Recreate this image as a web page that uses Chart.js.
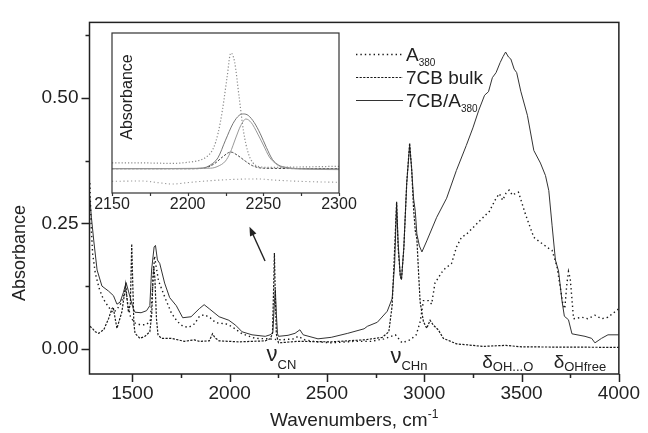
<!DOCTYPE html>
<html>
<head>
<meta charset="utf-8">
<script src="https://cdn.jsdelivr.net/npm/chart.js@4.4.1/dist/chart.umd.min.js"></script>
<style>
  html, body { margin: 0; padding: 0; background: #fff; }
  #wrap { position: relative; width: 648px; height: 433px; }
  #wrap canvas { position: absolute; left: 0; top: 0; }
</style>
</head>
<body>
<div id="wrap">
  <canvas id="main" width="648" height="433"></canvas>
  <canvas id="inset" width="648" height="433"></canvas>
</div>
<script>
// spectra: wavenumber (cm-1) / absorbance
var a380Wn = [1282,1288,1296,1310,1330,1350,1375,1400,1420,1440,1455,1466,1476,1490,1510,1540,1570,1592,1604,1614,1622,1635,1650,1670,1700,1730,1760,1790,1820,1845,1870,1900,1929,1980,2013,2064,2132,2200,2267,2330,2352,2386,2450,2522,2640,2725,2793,2852,2886,2928,2959,2979,2996,3022,3038,3055,3098,3140,3166,3191,3216,3267,3301,3335,3369,3386,3403,3420,3436,3453,3470,3484,3521,3563,3597,3640,3657,3682,3700,3712,3722,3733,3741,3750,3759,3767,3810,3840,3877,3911,3944,3987,4000];
var a380Abs = [0.33,0.25,0.19,0.15,0.12,0.10,0.085,0.072,0.078,0.09,0.105,0.12,0.09,0.065,0.052,0.048,0.048,0.055,0.12,0.185,0.165,0.135,0.12,0.10,0.072,0.055,0.045,0.043,0.05,0.065,0.068,0.062,0.052,0.050,0.044,0.030,0.021,0.020,0.018,0.02,0.025,0.018,0.014,0.012,0.015,0.015,0.020,0.028,0.012,0.018,0.028,0.054,0.096,0.096,0.089,0.131,0.157,0.170,0.203,0.222,0.228,0.248,0.261,0.274,0.300,0.309,0.296,0.31,0.316,0.306,0.31,0.312,0.267,0.222,0.212,0.20,0.196,0.164,0.12,0.09,0.08,0.13,0.154,0.14,0.099,0.060,0.063,0.06,0.067,0.060,0.063,0.076,0.08];

var bulkWn = [1282,1294,1310,1327,1353,1378,1395,1402,1412,1421,1446,1460,1466,1473,1480,1490,1497,1503,1508,1514,1539,1565,1590,1600,1606,1610,1616,1624,1632,1649,1700,1768,1819,1845,1895,1912,1925,1946,2047,2183,2208,2220,2226,2230,2234,2240,2251,2352,2522,2691,2784,2818,2835,2848,2858,2866,2877,2883,2895,2910,2925,2935,2945,2954,2962,2971,2979,2996,3013,3030,3047,3072,3098,3166,3301,3420,3500,4000];
var bulkAbs = [0.045,0.041,0.034,0.031,0.038,0.060,0.080,0.083,0.06,0.041,0.073,0.11,0.128,0.10,0.073,0.09,0.209,0.12,0.05,0.031,0.021,0.025,0.034,0.07,0.14,0.165,0.14,0.06,0.028,0.021,0.021,0.015,0.018,0.015,0.016,0.030,0.022,0.016,0.014,0.016,0.020,0.03,0.12,0.191,0.12,0.03,0.012,0.015,0.014,0.018,0.023,0.034,0.086,0.20,0.293,0.2,0.145,0.138,0.2,0.33,0.41,0.36,0.28,0.235,0.22,0.15,0.093,0.054,0.041,0.057,0.047,0.038,0.021,0.010,0.005,0.007,0.004,0.003];

var compWn = [1282,1290,1302,1319,1344,1378,1403,1421,1437,1454,1468,1480,1492,1505,1514,1545,1573,1590,1599,1612,1619,1629,1641,1666,1692,1726,1759,1802,1844,1869,1895,1946,1996,2031,2064,2115,2183,2208,2222,2230,2235,2240,2246,2251,2300,2336,2361,2378,2454,2522,2607,2691,2708,2759,2810,2835,2848,2858,2866,2877,2883,2895,2910,2925,2935,2945,2954,2962,2975,2988,3013,3064,3115,3165,3216,3250,3280,3310,3330,3350,3369,3390,3405,3418,3433,3445,3462,3475,3496,3530,3563,3597,3623,3640,3657,3674,3690,3708,3720,3741,3759,3826,3860,3877,3911,3944,4000];
var compAbs = [0.30,0.261,0.215,0.157,0.125,0.115,0.106,0.089,0.093,0.112,0.132,0.115,0.098,0.080,0.073,0.072,0.076,0.086,0.157,0.203,0.206,0.177,0.170,0.131,0.102,0.086,0.062,0.064,0.080,0.088,0.080,0.064,0.057,0.047,0.034,0.028,0.025,0.028,0.032,0.09,0.118,0.07,0.03,0.025,0.027,0.031,0.038,0.028,0.020,0.023,0.031,0.040,0.045,0.053,0.075,0.10,0.17,0.29,0.21,0.145,0.138,0.2,0.33,0.405,0.36,0.30,0.274,0.229,0.205,0.193,0.215,0.262,0.30,0.355,0.405,0.44,0.475,0.505,0.512,0.54,0.55,0.57,0.582,0.591,0.581,0.577,0.557,0.55,0.513,0.465,0.395,0.37,0.345,0.315,0.245,0.177,0.155,0.095,0.065,0.058,0.03,0.025,0.021,0.012,0.021,0.028,0.028];

// inset (nu CN region), relative absorbance 0..100
var insetAWn = [2150,2170,2190,2200,2208,2213,2217,2220,2223,2226,2228.5,2231,2234,2237,2240,2243,2247,2255,2270,2300];
var insetAVal = [18.8,18.8,18.5,19.2,20.5,23,28,37,52,72,87.5,82,60,38,25,19,16.5,16,16.2,16.7];
var insetBWn = [2150,2200,2210,2215,2220,2225,2230,2234,2237,2240,2244,2248,2252,2256,2260,2265,2275,2300];
var insetBVal = [15.2,15.2,15.6,17.5,22,33,43.5,48.5,49.4,48.5,44,37,28.5,21,17.5,16,15.2,15];
var insetCWn = [2150,2215,2220,2225,2228,2232,2235,2238.5,2242,2246,2250,2254,2258,2262,2275,2300];
var insetCVal = [15.2,15.5,16.7,20,25,35,42,46.25,44,37.5,30,22.5,18.5,16.3,15,14.6];
var insetDWn = [2150,2205,2212,2218,2223,2228.5,2233,2238,2243,2250,2300];
var insetDVal = [15.2,15.2,15.8,18.5,22.5,25.6,23.5,20,17,15.5,15.2];
var insetEWn = [2150,2170,2180,2190,2200,2215,2230,2245,2260,2280,2300];
var insetEVal = [7.3,7.5,6.5,5.6,6.5,7.7,8.5,8.8,7.9,7.1,6.7];

var xTicks = [1500, 2000, 2500, 3000, 3500, 4000];
var xMinor = [1750, 2250, 2750, 3250, 3750];
var yTicks = [0, 0.25, 0.5];
var yMinor = [0.125, 0.375, 0.625];
var insetTicks = [2150, 2200, 2250, 2300];
var insetMinor = [2175, 2225, 2275];

var notes = [
  {x: 2190, y: -0.025, main: '\u03bd', sub: 'CN', size: 22, drop: 8},
  {x: 2826, y: -0.028, main: '\u03bd', sub: 'CHn', size: 22, drop: 7.5},
  {x: 3298, y: -0.039, main: '\u03b4', sub: 'OH...O', size: 19, drop: 2.5},
  {x: 3665, y: -0.039, main: '\u03b4', sub: 'OHfree', size: 19, drop: 2.5}
];
var arrowFrom = {x: 2182, y: 0.175};
var arrowTo = {x: 2102, y: 0.243};

var FONT = '"Liberation Sans", Arial, Helvetica, sans-serif';
var INK = '#222';

function pts(xs, ys) {
  return xs.map(function (x, i) { return {x: x, y: ys[i]}; });
}

function textSub(ctx, x, y, main, sub, size, subSize, drop) {
  ctx.font = size + 'px ' + FONT;
  ctx.textAlign = 'left';
  ctx.textBaseline = 'alphabetic';
  ctx.fillText(main, x, y);
  var w = ctx.measureText(main).width;
  ctx.font = subSize + 'px ' + FONT;
  ctx.fillText(sub, x + w, y + drop);
}

var mainDeco = {
  id: 'mainDeco',
  afterDraw: function (chart) {
    var ctx = chart.ctx, a = chart.chartArea;
    var sx = chart.scales.x, sy = chart.scales.y;
    ctx.save();
    ctx.strokeStyle = INK;
    ctx.fillStyle = INK;
    ctx.lineWidth = 1.5;
    ctx.setLineDash([]);
    ctx.strokeRect(a.left, a.top, a.right - a.left, a.bottom - a.top);

    // tick marks, outward
    ctx.beginPath();
    xTicks.forEach(function (v) { var p = Math.round(sx.getPixelForValue(v)) + 0.5; ctx.moveTo(p, a.bottom); ctx.lineTo(p, a.bottom + 8); });
    xMinor.forEach(function (v) { var p = Math.round(sx.getPixelForValue(v)) + 0.5; ctx.moveTo(p, a.bottom); ctx.lineTo(p, a.bottom + 4); });
    yTicks.forEach(function (v) { var p = Math.round(sy.getPixelForValue(v)) + 0.5; ctx.moveTo(a.left, p); ctx.lineTo(a.left - 8, p); });
    yMinor.forEach(function (v) { var p = Math.round(sy.getPixelForValue(v)) + 0.5; ctx.moveTo(a.left, p); ctx.lineTo(a.left - 4, p); });
    ctx.stroke();

    // band labels
    notes.forEach(function (n) {
      textSub(ctx, sx.getPixelForValue(n.x), sy.getPixelForValue(n.y), n.main, n.sub, n.size, 13, n.drop);
    });

    // arrow to inset
    var x0 = sx.getPixelForValue(arrowFrom.x), y0 = sy.getPixelForValue(arrowFrom.y);
    var x1 = sx.getPixelForValue(arrowTo.x), y1 = sy.getPixelForValue(arrowTo.y);
    var ang = Math.atan2(y1 - y0, x1 - x0);
    ctx.lineWidth = 1.4;
    ctx.beginPath();
    ctx.moveTo(x0, y0);
    ctx.lineTo(x1 - 6 * Math.cos(ang), y1 - 6 * Math.sin(ang));
    ctx.stroke();
    ctx.beginPath();
    ctx.moveTo(x1, y1);
    ctx.lineTo(x1 - 9 * Math.cos(ang) + 3.5 * Math.sin(ang), y1 - 9 * Math.sin(ang) - 3.5 * Math.cos(ang));
    ctx.lineTo(x1 - 9 * Math.cos(ang) - 3.5 * Math.sin(ang), y1 - 9 * Math.sin(ang) + 3.5 * Math.cos(ang));
    ctx.closePath();
    ctx.fill();

    // legend
    var rows = [54, 77, 100];
    var names = [['A', '380'], ['7CB bulk', ''], ['7CB/A', '380']];
    chart.data.datasets.forEach(function (ds, i) {
      var y = rows[i] + 0.5;
      ctx.strokeStyle = ds.borderColor;
      ctx.lineWidth = ds.borderWidth;
      ctx.setLineDash(ds.borderDash || []);
      ctx.beginPath();
      ctx.moveTo(356, y);
      ctx.lineTo(403, y);
      ctx.stroke();
      ctx.setLineDash([]);
      textSub(ctx, 406, rows[i] + 7, names[i][0], names[i][1], 19, 10, 5);
    });

    // axis titles
    ctx.font = '19px ' + FONT;
    var t = 'Wavenumbers, cm';
    var w1 = ctx.measureText(t).width;
    ctx.font = '12px ' + FONT;
    var w2 = ctx.measureText('-1').width;
    var cx = (a.left + a.right) / 2 - (w1 + w2) / 2;
    ctx.font = '19px ' + FONT;
    ctx.textAlign = 'left';
    ctx.textBaseline = 'alphabetic';
    ctx.fillText(t, cx, 426);
    ctx.font = '12px ' + FONT;
    ctx.fillText('-1', cx + w1, 418);

    ctx.translate(25, 253);
    ctx.rotate(-Math.PI / 2);
    ctx.font = '18px ' + FONT;
    ctx.textAlign = 'center';
    ctx.textBaseline = 'alphabetic';
    ctx.fillText('Absorbance', 0, 0);
    ctx.restore();
  }
};

new Chart(document.getElementById('main'), {
  type: 'line',
  data: {
    datasets: [
      {label: 'A380', data: pts(a380Wn, a380Abs), borderColor: '#1a1a1a', borderWidth: 1.4, borderDash: [1.4, 3]},
      {label: '7CB bulk', data: pts(bulkWn, bulkAbs), borderColor: '#1a1a1a', borderWidth: 1.2, borderDash: [2.2, 1.4]},
      {label: '7CB/A380', data: pts(compWn, compAbs), borderColor: '#333', borderWidth: 1}
    ]
  },
  options: {
    responsive: false,
    animation: false,
    devicePixelRatio: 1,
    layout: {padding: {top: 13, right: 24, left: 0, bottom: 0}},
    elements: {point: {radius: 0}, line: {tension: 0, fill: false}},
    plugins: {legend: {display: false}, tooltip: {enabled: false}},
    scales: {
      x: {
        type: 'linear', min: 1280, max: 4000,
        grid: {display: false, drawTicks: false},
        border: {display: false},
        afterBuildTicks: function (s) { s.ticks = xTicks.map(function (v) { return {value: v}; }); },
        afterFit: function (s) { s.height = 59; },
        ticks: {padding: 8, color: INK, maxRotation: 0, autoSkip: false, font: {family: FONT, size: 19},
          callback: function (v) { return String(v); }}
      },
      y: {
        type: 'linear', min: -0.05, max: 0.65,
        grid: {display: false, drawTicks: false},
        border: {display: false},
        afterBuildTicks: function (s) { s.ticks = yTicks.map(function (v) { return {value: v}; }); },
        afterFit: function (s) { s.width = 89.5; },
        ticks: {padding: 11, color: INK, font: {family: FONT, size: 19},
          callback: function (v) { return v.toFixed(2); }}
      }
    }
  },
  plugins: [mainDeco]
});

var insetDeco = {
  id: 'insetDeco',
  beforeDraw: function (chart) {
    var ctx = chart.ctx, a = chart.chartArea;
    ctx.save();
    ctx.fillStyle = '#fff';
    ctx.fillRect(a.left, a.top, a.right - a.left, a.bottom - a.top);
    ctx.restore();
  },
  afterDraw: function (chart) {
    var ctx = chart.ctx, a = chart.chartArea, sx = chart.scales.x;
    ctx.save();
    ctx.strokeStyle = '#333';
    ctx.lineWidth = 1.2;
    ctx.strokeRect(a.left, a.top, a.right - a.left, a.bottom - a.top);
    ctx.beginPath();
    insetTicks.concat(insetMinor).forEach(function (v) {
      var p = Math.round(sx.getPixelForValue(v)) + 0.5;
      ctx.moveTo(p, a.bottom);
      ctx.lineTo(p, a.bottom + 3);
    });
    ctx.stroke();
    ctx.fillStyle = INK;
    ctx.translate(132, (a.top + a.bottom) / 2 - 16);
    ctx.rotate(-Math.PI / 2);
    ctx.font = '16px ' + FONT;
    ctx.textAlign = 'center';
    ctx.textBaseline = 'alphabetic';
    ctx.fillText('Absorbance', 0, 0);
    ctx.restore();
  }
};

new Chart(document.getElementById('inset'), {
  type: 'line',
  data: {
    datasets: [
      {data: pts(insetEWn, insetEVal), borderColor: '#999', borderWidth: 1.1, borderDash: [1.2, 2.6]},
      {data: pts(insetAWn, insetAVal), borderColor: '#8a8a8a', borderWidth: 1.2, borderDash: [1.2, 2]},
      {data: pts(insetCWn, insetCVal), borderColor: '#999', borderWidth: 1},
      {data: pts(insetBWn, insetBVal), borderColor: '#777', borderWidth: 1},
      {data: pts(insetDWn, insetDVal), borderColor: '#444', borderWidth: 1, borderDash: [2.5, 1.5]}
    ]
  },
  options: {
    responsive: false,
    animation: false,
    devicePixelRatio: 1,
    layout: {padding: {left: 112, top: 33, right: 309, bottom: 218}},
    elements: {point: {radius: 0}, line: {cubicInterpolationMode: 'monotone', fill: false}},
    plugins: {legend: {display: false}, tooltip: {enabled: false}},
    scales: {
      x: {
        type: 'linear', min: 2150, max: 2300,
        grid: {display: false, drawTicks: false},
        border: {display: false},
        afterBuildTicks: function (s) { s.ticks = insetTicks.map(function (v) { return {value: v}; }); },
        afterFit: function (s) { s.height = 22; },
        ticks: {padding: 2, color: INK, maxRotation: 0, autoSkip: false, font: {family: FONT, size: 16},
          callback: function (v) { return String(v); }}
      },
      y: {type: 'linear', min: 0, max: 100, display: false}
    }
  },
  plugins: [insetDeco]
});
</script>
</body>
</html>
